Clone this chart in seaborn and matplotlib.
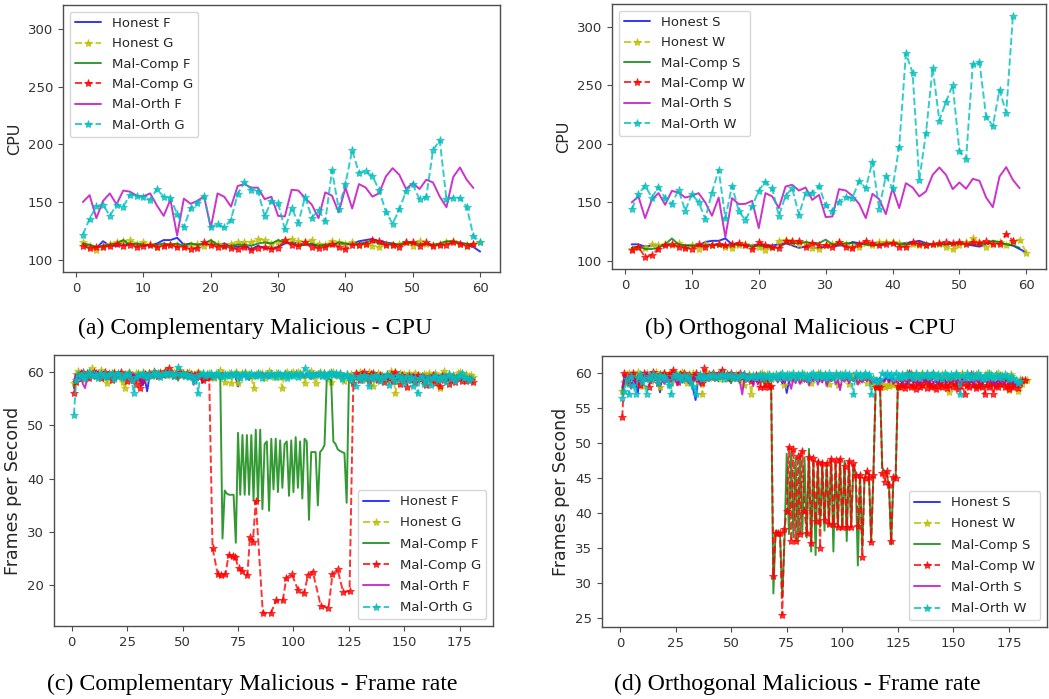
import matplotlib
matplotlib.use("Agg")
import matplotlib.pyplot as plt
import seaborn as sns

# ------------------------------------------------------------------ data
# (a) Complementary malicious - CPU  (x = sample index starting at 1)
a_honest_f = [113, 112, 110, 116, 112, 112, 113, 114, 113, 112,
              113, 114, 117, 117, 119, 113, 114, 113, 112, 114,
              113, 114, 112, 111, 112, 109, 112, 110, 110, 111,
              114, 115, 114, 113, 113, 112, 113, 114, 114, 113,
              114, 116, 117, 118, 116, 115, 114, 113, 114, 115,
              114, 113, 112, 113, 114, 115, 115, 113, 111, 107]
a_honest_g = [115, 112, 108, 112, 114, 115, 116, 117, 114, 115,
              114, 111, 113, 114, 113, 112, 113, 114, 112, 115,
              114, 112, 114, 115, 115, 115, 118, 117, 114, 115,
              117, 118, 116, 115, 117, 114, 113, 116, 115, 114,
              115, 113, 114, 112, 111, 114, 113, 114, 115, 112,
              116, 114, 113, 114, 115, 116, 114, 113, 114, 115]
a_malcomp_f = [114, 113, 111, 112, 113, 114, 117, 113, 114, 113,
               112, 113, 114, 113, 114, 112, 114, 113, 114, 117,
               113, 111, 112, 113, 113, 112, 114, 115, 114, 117,
               115, 114, 112, 113, 114, 112, 113, 112, 115, 114,
               113, 114, 115, 116, 114, 113, 114, 113, 115, 114,
               113, 114, 113, 114, 116, 116, 114, 114, 112]
a_malcomp_g = [112, 110, 111, 111, 112, 114, 112, 113, 111, 112,
               113, 111, 112, 113, 111, 111, 109, 110, 115, 113,
               111, 112, 110, 109, 111, 108, 110, 111, 109, 110,
               117, 113, 112, 115, 111, 110, 111, 114, 111, 109,
               113, 113, 114, 117, 116, 113, 113, 111, 115, 115,
               112, 115, 112, 113, 113, 115, 114, 112, 114]
a_malorth_f = [150, 156, 136, 151, 157.5, 148, 160, 159, 155.5, 155,
               157.5, 147, 138, 152, 121, 153, 148.5, 151, 155, 127.7,
               157.5, 154.6, 146, 164, 165.5, 162.5, 162.5, 152.5, 154.6, 138,
               137.5, 160.7, 160, 153.5, 147.8, 136, 158.4, 155.5, 141, 162.6,
               144.4, 165.6, 162.6, 154.7, 157.6, 172.2, 179.4, 173.6, 161.3, 166.5,
               161.3, 169.4, 167, 154.7, 145.5, 171.7, 180, 169.4, 162.2]
a_malorth_g = [121.7, 135.5, 146.2, 147.7, 138, 147.7, 145.7, 156.5, 155, 154,
               152, 161.3, 154.6, 153.8, 139.6, 128, 145, 148.9, 155, 128.3,
               130.9, 128, 134.7, 157.2, 167.2, 160.7, 159.8, 137.6, 150.8, 148.8,
               126.3, 144.8, 132, 154.5, 136.5, 143, 133.3, 177.4, 144.2, 166,
               195, 175.4, 176.9, 172.5, 160.4, 141.6, 131.2, 143.6, 159.5, 165.3,
               152.3, 154.6, 194.8, 203.8, 152.3, 153.8, 153.8, 146, 120.5, 115.6]

# (b) Orthogonal malicious - CPU
b_honest_s = [114, 114, 112, 113, 113, 113, 113, 114, 113, 113,
              113, 116, 117, 117, 119, 114, 114, 113, 113, 114,
              113, 113, 114, 115, 113, 111, 112, 111, 111, 112,
              112, 113, 113, 116, 115, 114, 114, 113, 114, 115,
              115, 115, 116, 117, 115, 114, 114, 114, 115, 115,
              114, 113, 112, 114, 116, 115, 114, 113, 110, 107]
b_honest_w = [110, 112, 111, 114, 113, 114, 113, 115, 112, 113,
              110, 114, 113, 114, 112, 111, 113, 114, 112, 112,
              109, 112, 117, 118, 116, 114, 115, 111, 110, 113,
              114, 116, 114, 112, 112, 115, 113, 116, 116, 116,
              115, 113, 114, 113, 113, 114, 114, 112, 110, 113,
              116, 119, 116, 112, 115, 116, 113, 117, 118, 107]
b_malcomp_s = [111, 112, 110, 110, 111, 114, 119, 114, 113, 113,
               113, 113, 114, 113, 113, 113, 114, 113, 112, 113,
               112, 111, 111, 115, 115, 115, 116, 115, 115, 118,
               114, 114, 115, 115, 114, 114, 113, 114, 115, 115,
               114, 114, 115, 115, 114, 114, 114, 114, 114, 115,
               114, 114, 114, 115, 117, 116, 114, 113, 111]
b_malcomp_w = [109, 112, 103, 105, 110, 113, 114, 112, 111, 110,
               114, 112, 113, 114, 113, 114, 115, 113, 110, 116,
               113, 112, 111, 117, 117, 117, 112, 115, 113, 113,
               112, 116, 112, 111, 114, 117, 115, 113, 114, 115,
               112, 112, 116, 114, 113, 114, 115, 116, 115, 116,
               114, 116, 115, 117, 114, 114, 123, 117]
b_malorth_s = [149.8, 155, 136.4, 152, 157.8, 147.8, 159.7, 158.3, 154, 155.5,
               157.8, 149.8, 138.4, 154, 120.2, 153.5, 148.4, 148.6, 151.2, 127.9,
               157.8, 155, 145, 163.4, 164.9, 160, 162.6, 152, 156.3, 137.3,
               137.8, 161.2, 160, 155.5, 148.6, 136.4, 157.2, 152.6, 139.8, 162,
               145, 166.3, 162.6, 155, 159.2, 173.4, 179.7, 173.4, 161.2, 166.9,
               161.5, 170, 168.3, 154, 145.8, 172, 180, 169.1, 162]
b_malorth_w = [144.1, 156.9, 164.3, 154, 162.9, 153.5, 148.6, 160.6, 142.7, 156.9,
               150, 135.8, 158.3, 177.7, 136.4, 164, 142.7, 134.4, 146.4, 160,
               167.7, 162, 138.4, 155.5, 162, 139.3, 157.8, 158.3, 164, 147.2,
               142.7, 150.6, 154.3, 153.5, 168.3, 162, 184.8, 144.1, 172.5, 162,
               197.6, 277.2, 260.7, 169.1, 209, 265, 219.8, 236, 250.2, 193.9,
               187, 267.9, 269.8, 223.2, 215.2, 246, 226.6, 309.4]

# (c) Complementary malicious - frame rate
c_honest_f = [57.0, 59.4, 59.8, 59.1, 59.6, 58.8, 59.9, 59.3, 59.7, 59.0,
              59.5, 59.8, 59.2, 58.7, 59.6, 59.9, 59.3, 59.0, 59.7, 59.4,
              59.1, 58.6, 59.5, 59.8, 58.9, 59.3, 58.0, 58.4, 59.6, 59.2,
              58.3, 57.5, 58.6, 56.4, 59.0, 59.7, 59.4, 59.9, 59.5, 59.8,
              60.0, 59.6, 59.3, 59.9, 59.7, 59.5, 59.8, 59.4, 59.9, 59.6,
              59.2, 59.7, 59.4, 58.9, 59.6, 58.4, 59.8, 59.5, 58.0, 59.7,
              59.4, 59.8, 59.1, 59.6, 59.9, 59.3, 59.0, 59.7, 59.5, 59.2,
              59.8, 59.4, 59.6, 58.9, 57.3, 59.5, 59.9, 59.2, 59.6, 59.0,
              59.7, 59.4, 58.8, 59.9, 59.5, 59.1, 59.6, 59.8, 59.3, 59.7,
              59.0, 59.5, 59.9, 59.2, 58.7, 59.6, 59.8, 59.4, 59.1, 59.7,
              59.5, 59.9, 59.0, 59.6, 59.3, 59.8, 59.4, 60.0, 59.2, 59.7,
              59.5, 59.1, 59.8, 60.0, 59.4, 59.7, 59.9, 59.3, 59.6, 59.0,
              59.7, 59.4, 58.9, 59.6, 59.2, 58.5, 59.0, 58.7, 59.3, 58.8,
              59.1, 58.6, 59.4, 58.9, 59.6, 58.4, 59.0, 59.5, 58.7, 59.2,
              58.9, 59.4, 58.6, 59.7, 58.8, 59.1, 58.5, 59.3, 59.9, 58.7,
              59.2, 58.6, 59.5, 58.9, 59.8, 58.4, 59.1, 59.6, 58.8, 59.3,
              58.7, 59.4, 58.9, 59.6, 58.5, 59.0, 59.4, 58.8, 59.7, 59.1,
              58.6, 59.3, 58.9, 59.5, 58.7, 59.2, 59.0, 58.8, 59.1, 58.9]
c_honest_g = [58.0, 59.6, 60.2, 59.3, 59.8, 58.7, 59.5, 60.0, 60.7, 59.4,
              59.9, 59.2, 60.3, 59.6, 58.9, 57.9, 59.8, 59.4, 60.1, 59.5,
              59.0, 59.7, 58.2, 57.0, 59.6, 60.1, 59.3, 58.6, 59.8, 59.9,
              59.2, 60.0, 59.5, 58.8, 59.9, 59.4, 60.2, 59.7, 59.3, 60.0,
              59.6, 59.9, 60.3, 59.4, 59.8, 60.1, 59.5, 59.9, 60.4, 59.6,
              59.3, 59.8, 60.0, 59.5, 59.0, 59.7, 60.1, 59.4, 59.9, 59.2,
              59.6, 59.9, 59.3, 58.8, 59.7, 59.4, 60.4, 59.8, 58.1, 59.5,
              59.9, 58.0, 59.6, 60.1, 57.9, 59.4, 59.8, 60.0, 59.2, 59.7,
              59.3, 57.0, 59.6, 59.9, 59.4, 59.8, 58.9, 59.5, 60.2, 59.6,
              59.1, 59.8, 59.4, 59.0, 57.0, 59.7, 60.1, 59.3, 59.9, 60.0,
              59.6, 60.1, 59.8, 59.2, 58.0, 59.5, 59.9, 60.2, 59.4, 57.9,
              59.7, 60.0, 59.3, 59.8, 59.5, 59.9, 58.2, 60.0, 59.6, 59.3,
              59.8, 59.1, 58.4, 59.6, 59.0, 59.7, 58.9, 59.5, 59.2, 60.0,
              59.8, 58.7, 59.4, 60.1, 59.6, 57.3, 59.3, 59.9, 58.8, 59.5,
              59.0, 59.7, 58.6, 60.2, 59.4, 56.0, 59.1, 59.8, 58.5, 59.6,
              59.2, 59.9, 58.9, 59.5, 59.8, 58.7, 59.3, 59.0, 59.7, 59.4,
              59.8, 58.8, 59.5, 59.9, 59.1, 57.0, 59.6, 60.2, 59.3, 59.7,
              59.0, 59.5, 58.8, 59.9, 60.1, 59.4, 58.9, 59.6, 59.2, 59.5,
              59.0]
c_malcomp_f = [57.5, 58.8, 59.4, 58.3, 59.6, 59.1, 59.8, 58.7, 59.5, 59.2,
               59.9, 59.0, 59.6, 58.9, 59.4, 59.8, 59.3, 58.8, 59.7, 59.1,
               59.5, 59.0, 59.8, 59.3, 58.6, 59.7, 59.2, 59.5, 58.9, 59.6,
               59.3, 58.8, 59.7, 59.0, 59.5, 59.8, 59.2, 59.6, 59.9, 59.4,
               59.7, 59.2, 59.9, 59.5, 59.8, 59.3, 59.6, 58.4, 59.9, 59.5,
               59.2, 59.7, 59.4, 59.8, 59.0, 59.6, 59.3, 59.8, 59.1, 59.5,
               59.7, 59.2, 59.6, 59.0, 59.4, 59.1, 58.6,
               28.8, 37.8, 37.2, 37.0, 37.0, 37.0, 28.0, 48.6, 37.0, 48.2,
               37.0, 48.2, 37.0, 48.2, 36.0, 49.2, 35.8, 49.2, 34.3, 46.5,
               47.0, 34.0, 47.5, 38.0, 47.5, 37.5, 47.2, 38.3, 46.5, 47.0,
               36.8, 47.2, 37.5, 47.8, 38.3, 47.0, 36.3, 47.5, 47.0, 32.3,
               45.0, 45.0, 45.0, 35.0, 45.0, 45.5, 46.3, 58.5, 58.8, 58.5,
               47.0, 46.5, 45.5, 45.2, 45.0, 44.8, 35.5,
               58.2, 59.0, 58.4, 59.2, 58.7, 59.5,
               58.8, 59.3, 58.5, 59.1, 59.6, 58.7, 59.0, 58.4, 59.3, 58.9,
               59.4, 58.6, 59.0, 59.5, 58.8, 59.2, 58.5, 59.1, 59.6, 58.7,
               59.3, 58.9, 59.5, 58.6, 59.0, 59.4, 58.8, 59.2, 58.5, 59.3,
               59.0, 58.7, 59.5, 58.9, 59.2, 58.4, 59.1, 58.8, 59.4, 59.0,
               58.6, 59.3, 58.9, 59.5, 58.7, 59.2, 58.8, 59.0, 58.6, 59.1]
c_malcomp_g_x = ([float(i) for i in range(1, 63)] +
                 [63.5, 65.8, 67.5, 69.3, 70.8, 72.6, 73.6, 75.3, 76.9, 79.2,
                  80.4, 81.7, 83.0, 86.2, 89.8, 92.2, 95.2, 96.8, 99.2, 102.1,
                  104.8, 106.6, 108.7, 112.3, 115.8, 117.6, 119.9, 122.4, 125.3] +
                 [float(i) for i in range(127, 182)])
c_malcomp_g = [56.0, 58.2, 59.5, 59.9, 60.0, 59.4, 59.8, 58.9, 59.6, 60.1,
               59.3, 59.7, 58.8, 59.5, 60.0, 59.2, 59.6, 58.6, 59.9, 59.4,
               59.7, 60.1, 59.0, 59.5, 58.4, 59.8, 59.2, 58.8, 57.8, 59.3,
               57.0, 58.5, 59.6, 59.1, 59.8, 59.4, 60.0, 59.6, 59.2, 59.8,
               59.5, 60.2, 59.7, 60.7, 59.9, 59.3, 59.8, 59.5, 60.1, 59.6,
               59.4, 59.9, 59.2, 59.7, 59.5, 59.0, 59.8, 59.3, 58.6, 59.1,
               58.8, 59.0,
               27.0, 22.2, 21.9, 22.1, 25.8, 25.5, 25.4, 23.2, 22.7, 21.9,
               29.1, 28.2, 35.8, 14.8, 14.8, 17.2, 17.2, 21.4, 22.2, 19.1,
               18.6, 22.0, 22.6, 16.2, 15.8, 22.1, 23.0, 18.8, 18.9,
               58.0, 59.8, 59.2, 58.5, 59.6, 60.0, 59.1, 58.4, 59.7, 59.9,
               59.3, 58.6, 59.5, 59.0, 58.2, 59.4, 58.8, 59.6, 58.3, 60.0,
               59.1, 57.8, 59.4, 58.7, 57.2, 59.3, 58.5, 59.0, 58.1, 59.5,
               58.7, 59.2, 58.4, 57.6, 59.1, 58.6, 59.4, 58.0, 58.9, 57.3,
               59.2, 58.5, 58.9, 57.8, 58.6, 59.3, 58.2, 58.8, 59.1, 58.4,
               58.9, 58.3, 58.7, 58.6, 58.2]
c_malorth_f = [58.5, 59.6, 58.8, 59.3, 57.8, 57.0, 58.9, 59.5, 59.9, 59.2,
               60.3, 59.6, 59.0, 59.8, 59.4, 58.7, 59.6, 59.9, 59.2, 58.6,
               59.5, 59.8, 58.9, 59.3, 59.7, 59.0, 58.5, 59.6, 59.2, 58.4,
               59.4, 58.0, 59.1, 59.7, 59.4, 59.8, 59.5, 59.9, 59.2, 59.7,
               59.6, 59.9, 59.4, 60.1, 59.8, 59.5, 59.9, 59.3, 59.7, 59.6,
               59.2, 59.5, 58.9, 59.8, 57.6, 59.3, 59.7, 58.9, 59.4, 59.0,
               59.6, 59.2, 59.8, 59.4, 59.0, 59.7, 59.3, 59.9, 59.5, 59.1,
               59.6, 59.8, 59.2, 59.5, 59.9, 58.9, 59.4, 59.7, 59.0, 58.5,
               59.6, 59.3, 59.8, 59.1, 59.5, 59.9, 59.2, 59.6, 58.8, 59.4,
               59.7, 59.1, 59.5, 59.8, 59.0, 59.6, 59.3, 59.9, 59.4, 59.1,
               59.7, 59.5, 59.2, 59.8, 59.0, 59.6, 59.4, 58.7, 59.5, 59.9,
               59.2, 59.7, 59.4, 59.0, 59.6, 59.8, 59.3, 59.5, 59.1, 59.7,
               59.4, 58.9, 59.6, 59.2, 58.6, 59.4, 58.8, 59.3, 59.0, 58.5,
               59.2, 58.9, 59.6, 58.7, 59.3, 59.0, 58.6, 59.4, 58.9, 59.5,
               58.8, 59.2, 59.0, 59.6, 58.7, 59.3, 58.9, 59.5, 59.1, 58.6,
               59.3, 59.0, 58.7, 59.6, 59.1, 58.8, 59.4, 59.0, 59.5, 58.7,
               59.2, 58.9, 59.5, 59.0, 58.6, 59.3, 58.8, 59.6, 59.1, 58.7,
               59.3, 59.0, 58.5, 59.4, 58.9, 59.2, 58.7, 59.1, 58.8, 59.0]
c_malorth_g = [52.0, 58.5, 59.6, 59.0, 59.8, 58.9, 59.4, 60.0, 59.2, 59.7,
               59.5, 58.8, 59.9, 59.3, 59.7, 59.1, 59.6, 59.8, 58.7, 59.4,
               59.9, 59.2, 58.9, 59.6, 59.3, 59.8, 58.6, 56.0, 59.1, 59.7,
               59.4, 59.9, 59.2, 58.8, 59.7, 59.3, 60.0, 59.5, 59.8, 59.1,
               59.6, 59.9, 59.4, 60.0, 59.7, 59.3, 59.8, 61.0, 59.5, 59.9,
               59.3, 59.7, 59.0, 59.5, 58.4, 59.2, 56.0, 59.6, 59.8, 59.3,
               59.7, 59.4, 59.9, 59.1, 59.6, 59.8, 59.3, 59.0, 59.7, 59.5,
               59.2, 59.8, 59.5, 59.9, 59.3, 58.9, 59.6, 59.8, 59.1, 59.4,
               59.9, 59.5, 59.2, 59.8, 59.6, 58.9, 59.4, 59.7, 59.3, 59.9,
               59.5, 59.1, 59.8, 59.6, 59.2, 59.9, 58.8, 59.4, 59.7, 59.3,
               59.8, 59.0, 59.6, 59.4, 60.7, 59.5, 59.9, 59.2, 59.7, 59.4,
               59.6, 59.9, 59.3, 59.8, 59.0, 59.6, 60.0, 59.4, 59.8, 59.5,
               59.9, 58.7, 59.3, 59.6, 59.0, 58.5, 59.2, 57.4, 58.9, 59.3,
               58.6, 59.4, 58.9, 57.4, 59.2, 58.7, 59.5, 59.0, 58.4, 59.3,
               58.8, 59.6, 57.6, 59.2, 58.9, 58.3, 59.4, 58.7, 59.1, 57.9,
               59.3, 58.6, 59.0, 57.4, 58.8, 56.0, 58.9, 59.3, 57.8, 58.6,
               59.0, 57.5, 58.8, 59.4, 58.5, 59.1, 58.7, 59.3, 58.2, 59.6,
               58.9, 59.2, 58.4, 59.0, 59.5, 59.8, 58.8, 59.1, 58.6, 58.9]

# (d) Orthogonal malicious - frame rate
d_honest_s = [57.5, 59.8, 59.2, 58.6, 59.5, 59.9, 58.9, 57.2, 59.4, 59.7,
              59.1, 59.8, 59.5, 58.8, 59.6, 59.9, 59.2, 57.3, 59.5, 59.8,
              59.3, 59.6, 59.9, 59.0, 59.5, 59.8, 59.2, 58.7, 59.6, 59.3,
              59.8, 58.9, 57.6, 56.2, 58.8, 59.5, 59.9, 59.2, 59.7, 59.4,
              59.8, 59.3, 59.6, 59.9, 59.2, 59.7, 59.5, 59.8, 59.1, 59.6,
              59.9, 59.3, 59.7, 59.0, 59.5, 59.8, 59.2, 59.6, 59.4, 59.9,
              59.5, 59.1, 59.8, 59.4, 59.7, 59.2, 59.6, 59.9, 59.3, 59.7,
              59.4, 59.8, 58.6, 59.2, 57.2, 58.9, 59.5, 59.8, 59.1, 59.6,
              59.3, 59.9, 59.5, 58.8, 59.7, 59.2, 59.6, 59.9, 59.4, 59.0,
              59.7, 59.3, 59.8, 59.5, 59.1, 59.9, 59.4, 59.7, 60.0, 59.3,
              59.6, 59.2, 59.9, 59.5, 59.1, 59.8, 59.4, 59.7, 59.0, 59.6,
              59.3, 59.8, 58.9, 58.5, 59.2, 58.8, 59.4, 58.6, 59.1, 59.5,
              58.9, 59.6, 59.2, 58.7, 59.4, 59.0, 58.6, 59.3, 58.9, 59.5,
              59.0, 58.7, 59.4, 58.8, 59.2, 59.6, 58.9, 59.3, 58.6, 59.1,
              59.5, 58.8, 59.2, 58.5, 59.4, 59.0, 58.7, 59.3, 58.9, 59.6,
              59.1, 58.6, 59.3, 58.9, 59.5, 59.0, 58.7, 59.2, 58.8, 59.4,
              59.0, 58.6, 59.3, 58.9, 59.5, 59.1, 58.7, 59.2, 58.5, 59.0,
              58.8, 59.3, 58.9, 59.4, 58.7, 59.1, 58.6, 58.9, 58.0]
d_honest_w = [57.5, 58.8, 59.9, 60.1, 59.4, 58.6, 59.8, 60.2, 59.5, 58.2,
              59.7, 60.0, 59.3, 58.9, 59.9, 60.2, 59.6, 58.0, 59.8, 60.1,
              59.4, 59.9, 58.7, 59.6, 60.0, 59.3, 59.8, 60.2, 59.5, 58.6,
              59.9, 59.4, 60.1, 59.7, 58.8, 59.6, 57.0, 59.5, 60.0, 59.3,
              59.8, 60.1, 59.5, 59.9, 59.2, 59.7, 60.0, 59.4, 59.8, 59.6,
              59.3, 59.9, 59.6, 59.1, 59.7, 58.3, 59.5, 59.9, 57.0, 59.4,
              59.8, 59.2, 59.6, 60.0, 59.4, 59.9, 59.1, 59.6, 59.8, 59.3,
              59.7, 59.9, 59.4, 58.4, 59.6, 59.9, 59.2, 59.7, 59.5, 59.8,
              59.1, 59.6, 59.9, 59.4, 59.7, 58.6, 59.5, 59.8, 60.0, 59.3,
              59.6, 59.9, 59.2, 58.5, 59.7, 59.4, 59.8, 58.4, 59.5, 59.9,
              59.3, 59.7, 58.5, 59.6, 59.8, 59.2, 58.9, 59.7, 59.4, 59.9,
              58.7, 59.5, 58.9, 58.2, 58.4, 58.6, 58.3, 58.5, 58.0, 58.4,
              58.2, 58.6, 58.3, 58.9, 58.0, 59.4, 59.8, 59.3, 59.9, 59.5,
              60.0, 59.4, 59.8, 59.2, 59.7, 60.1, 59.5, 59.9, 59.3, 59.8,
              60.0, 59.4, 59.7, 59.1, 59.9, 59.5, 59.8, 57.3, 59.6, 59.2,
              59.9, 59.4, 59.7, 60.0, 59.3, 59.8, 59.5, 59.1, 59.7, 59.9,
              59.4, 59.8, 59.2, 59.6, 60.0, 59.5, 59.9, 59.3, 59.7, 60.0,
              59.4, 59.8, 59.2, 59.6, 57.6, 59.9, 59.4, 58.3, 57.5, 59.2,
              58.5, 59.0, 59.0]
d_malcomp_s = [57.0, 59.4, 58.9, 59.6, 59.2, 59.8, 58.7, 59.5, 59.9, 59.1,
               59.6, 59.3, 59.8, 59.0, 59.5, 59.9, 59.2, 59.7, 59.4, 59.8,
               59.1, 59.6, 59.3, 59.9, 59.5, 59.2, 59.8, 59.0, 59.6, 59.4,
               59.7, 59.2, 59.8, 59.5, 59.9, 59.3, 59.6, 59.0, 59.7, 59.4,
               59.9, 59.2, 59.6, 59.8, 59.3, 59.7, 59.5, 59.9, 59.1, 58.6,
               59.6, 59.3, 59.8, 59.0, 59.5, 59.7, 59.2, 59.6, 58.9, 59.4,
               59.7, 59.2, 59.5, 59.0, 58.5, 59.2, 58.6, 58.0,
               28.5, 37.5, 37.3, 37.0, 28.0, 36.0, 48.5, 37.0, 48.8, 36.5,
               48.0, 36.0, 48.5, 37.0, 48.0, 36.5, 49.2, 34.5, 47.5, 34.0,
               47.5, 38.0, 47.3, 37.5, 47.2, 38.3, 47.6, 34.5, 47.0, 38.0,
               47.6, 37.8, 47.5, 36.0, 47.3, 38.0, 47.0, 45.5, 32.5, 45.5,
               35.0, 45.0, 46.0, 45.5, 36.0, 45.5, 58.0, 58.2, 58.0, 46.5,
               46.0, 45.5, 44.0, 35.5, 45.0, 45.0,
               58.3, 58.0, 58.6, 57.9, 58.4, 58.8, 58.1, 58.5, 57.8, 58.3,
               58.7, 58.0, 58.4, 59.0, 58.2, 58.6, 57.9, 58.3, 58.8, 58.1,
               58.5, 59.2, 58.0, 58.4, 58.9, 58.2, 58.6, 57.8, 58.3, 58.7,
               59.5, 58.1, 58.5, 59.0, 58.2, 58.6, 57.9, 58.4, 58.8, 58.0,
               58.5, 59.3, 58.1, 58.6, 57.9, 58.4, 58.9, 58.2, 58.6, 59.5,
               58.3, 58.7, 58.0, 58.4, 58.1, 58.5]
d_malcomp_w = [53.7, 60.0, 59.2, 58.6, 59.8, 60.1, 58.9, 59.5, 58.3, 59.7,
               60.0, 59.4, 58.1, 59.8, 60.2, 59.3, 58.7, 59.9, 59.5, 60.1,
               59.2, 59.8, 60.0, 60.5, 59.6, 58.8, 59.9, 59.4, 60.0, 59.3,
               59.8, 58.9, 59.5, 60.0, 59.2, 59.7, 58.6, 60.8, 59.4, 59.9,
               59.5, 60.1, 59.3, 59.8, 60.0, 60.5, 59.6, 59.9, 59.4, 60.1,
               59.7, 59.3, 59.8, 60.0, 59.5, 59.9, 59.2, 59.6, 58.9, 59.4,
               59.8, 59.2, 58.0, 59.6, 58.0, 58.5, 58.0, 58.2,
               31.0, 37.1, 37.1, 37.1, 25.4, 37.7, 40.3, 49.5, 36.0, 49.2,
               36.0, 48.2, 37.0, 48.9, 40.3, 37.1, 48.1, 35.7, 47.9, 38.9,
               47.3, 35.0, 47.2, 39.0, 47.2, 38.5, 47.8, 38.5, 47.6, 38.0,
               47.8, 38.0, 46.8, 38.0, 47.5, 38.0, 47.2, 45.5, 38.2, 45.5,
               33.7, 45.0, 46.0, 45.2, 35.8, 45.5, 58.0, 58.2, 58.0, 45.8,
               44.5, 46.0, 44.0, 36.0, 45.2, 45.0,
               58.2, 58.0, 58.5, 57.9, 58.3, 60.0, 58.1, 58.4, 57.8, 58.6,
               58.0, 58.3, 59.2, 57.9, 58.5, 58.1, 58.4, 57.8, 58.2, 58.7,
               58.0, 58.4, 57.9, 58.3, 59.0, 58.1, 58.5, 57.8, 58.2, 58.6,
               57.1, 58.3, 58.0, 59.9, 58.4, 57.9, 58.2, 58.6, 58.0, 57.1,
               58.4, 58.1, 58.6, 57.1, 58.3, 58.0, 58.5, 59.2, 58.1, 58.4,
               57.8, 58.3, 58.0, 58.5, 57.9, 58.6, 59.0, 59.0]
d_malorth_s = [58.0, 59.5, 58.7, 59.9, 57.8, 59.3, 58.5, 59.7, 59.0, 58.4,
               59.6, 60.2, 59.1, 58.6, 59.8, 59.3, 58.9, 59.6, 59.2, 58.5,
               59.7, 59.4, 58.8, 59.6, 59.0, 58.3, 59.5, 58.9, 59.7, 59.2,
               58.6, 59.4, 58.9, 59.7, 59.3, 58.4, 59.5, 59.9, 59.0, 59.6,
               59.3, 59.8, 59.5, 59.9, 59.2, 59.6, 59.4, 59.8, 59.1, 59.5,
               59.8, 59.2, 59.6, 58.7, 57.0, 59.4, 59.8, 59.1, 59.5, 58.2,
               59.7, 58.4, 59.3, 59.8, 59.0, 59.5, 59.2, 58.9, 59.6, 59.3,
               58.7, 59.5, 59.1, 58.6, 59.4, 58.9, 57.8, 59.3, 58.6, 59.5,
               58.5, 59.2, 58.8, 59.6, 58.3, 59.4, 58.9, 59.7, 58.4, 59.2,
               58.7, 59.5, 58.2, 59.3, 58.9, 59.6, 58.5, 59.1, 57.6, 59.4,
               58.8, 59.5, 58.6, 59.2, 58.9, 59.6, 58.4, 59.1, 58.7, 59.3,
               58.9, 59.4, 58.5, 59.0, 58.7, 59.3, 58.6, 59.1, 58.8, 59.4,
               58.7, 59.2, 58.5, 59.0, 58.6, 59.3, 58.8, 59.1, 58.4, 59.2,
               58.9, 59.4, 58.6, 59.0, 58.5, 59.3, 58.8, 59.1, 58.7, 59.4,
               58.6, 59.0, 58.5, 59.2, 58.8, 59.3, 58.6, 59.0, 58.9, 59.4,
               58.7, 59.1, 58.5, 59.3, 58.8, 59.0, 58.6, 59.2, 58.4, 59.1,
               58.8, 59.3, 58.5, 59.0, 58.7, 59.2, 58.6, 58.9, 58.4, 59.1,
               58.7, 59.0, 58.5, 59.2, 58.8, 58.6, 58.9, 58.3, 58.7, 58.5]
d_malorth_w = [56.5, 57.5, 59.2, 57.0, 59.6, 58.3, 57.0, 59.5, 59.9, 58.8,
               59.4, 57.0, 59.7, 59.2, 59.9, 59.5, 58.6, 59.8, 59.3, 59.7,
               59.1, 58.4, 57.0, 59.6, 59.9, 59.3, 59.7, 59.0, 59.8, 59.4,
               59.6, 58.8, 58.2, 57.0, 59.5, 59.9, 59.2, 59.7, 59.4, 59.8,
               59.5, 59.9, 59.3, 59.7, 59.6, 59.9, 59.2, 59.8, 59.5, 59.9,
               59.4, 59.7, 59.3, 59.8, 59.6, 59.9, 59.2, 59.7, 59.5, 59.8,
               59.3, 59.6, 59.9, 59.4, 59.8, 59.5, 59.9, 59.2, 59.7, 59.9,
               59.4, 59.8, 60.0, 59.5, 59.9, 59.3, 59.8, 60.0, 59.4, 59.9,
               59.6, 60.0, 59.5, 59.8, 59.2, 59.9, 60.0, 59.4, 59.8, 60.0,
               59.5, 59.9, 59.3, 60.0, 59.7, 59.4, 60.0, 59.6, 59.9, 59.5,
               60.0, 59.6, 59.9, 59.4, 57.0, 60.0, 59.7, 59.9, 59.5, 60.0,
               59.6, 59.9, 57.0, 59.3, 59.0, 58.8, 59.2, 60.0, 59.8, 60.0,
               59.6, 59.9, 59.4, 60.0, 59.7, 59.3, 59.9, 59.5, 60.0, 59.6,
               59.9, 59.4, 60.0, 59.7, 59.3, 59.9, 59.6, 60.0, 59.5, 59.8,
               60.0, 59.4, 59.9, 59.6, 59.2, 60.0, 59.7, 59.3, 59.9, 59.5,
               60.0, 59.6, 57.0, 59.8, 59.4, 60.0, 59.7, 59.3, 59.9, 59.5,
               60.0, 59.6, 59.2, 59.8, 59.4, 60.0, 59.7, 59.3, 59.9, 59.5,
               59.8, 59.4, 59.9, 59.6, 59.2, 59.7, 59.4, 59.0, 58.6, 58.9]

labels_a = ["Honest F", "Honest G", "Mal-Comp F", "Mal-Comp G", "Mal-Orth F", "Mal-Orth G"]
labels_b = ["Honest S", "Honest W", "Mal-Comp S", "Mal-Comp W", "Mal-Orth S", "Mal-Orth W"]
captions = ["(a) Complementary Malicious - CPU", "(b) Orthogonal Malicious - CPU",
            "(c) Complementary Malicious - Frame rate", "(d) Orthogonal Malicious - Frame rate"]

# ------------------------------------------------------------------ style
sns.set_style("ticks")
plt.rcParams.update({
    "axes.edgecolor": "0.3",
    "axes.linewidth": 1.0,
    "xtick.color": "0.3",
    "ytick.color": "0.3",
    "xtick.labelcolor": "0.2",
    "ytick.labelcolor": "0.2",
    "xtick.major.size": 3.5,
    "ytick.major.size": 3.5,
    "legend.edgecolor": "0.8",
    "legend.framealpha": 0.8,
})
plt.rcParams["font.family"] = ["DejaVu Sans"]

W, H = 1049, 699
fig = plt.figure(figsize=(W / 100, H / 100), dpi=100)


def rect(l, t, r, b):
    return [l / W, 1 - b / H, (r - l) / W, (b - t) / H]


STYLES = [("b", "-", None), ("y", "--", "*"), ("g", "-", None),
          ("r", "--", "*"), ("m", "-", None), ("c", "--", "*")]


def idx(series):
    return list(range(1, len(series) + 1))


def draw(ax, xs, ys, labels):
    for x, y, lab, (c, ls, mk) in zip(xs, ys, labels, STYLES):
        kw = dict(color=c, linestyle=ls, label=lab, ax=ax, estimator=None,
                  sort=False, alpha=0.8, linewidth=1.4)
        if mk:
            kw.update(marker=mk, markersize=6, markeredgecolor=c, markeredgewidth=0.6)
        sns.lineplot(x=x, y=y, **kw)


ax_a = fig.add_axes(rect(63, 5, 500, 272))
ax_b = fig.add_axes(rect(612, 4, 1046, 269))
ax_c = fig.add_axes(rect(54, 355, 493, 626))
ax_d = fig.add_axes(rect(602, 356, 1047, 627))

sa = [a_honest_f, a_honest_g, a_malcomp_f, a_malcomp_g, a_malorth_f, a_malorth_g]
draw(ax_a, [idx(s) for s in sa], sa, labels_a)
sb = [b_honest_s, b_honest_w, b_malcomp_s, b_malcomp_w, b_malorth_s, b_malorth_w]
draw(ax_b, [idx(s) for s in sb], sb, labels_b)
sc = [c_honest_f, c_honest_g, c_malcomp_f, c_malcomp_g, c_malorth_f, c_malorth_g]
xc = [idx(c_honest_f), idx(c_honest_g), idx(c_malcomp_f), c_malcomp_g_x,
      idx(c_malorth_f), idx(c_malorth_g)]
draw(ax_c, xc, sc, labels_a)
sd = [d_honest_s, d_honest_w, d_malcomp_s, d_malcomp_w, d_malorth_s, d_malorth_w]
draw(ax_d, [idx(s) for s in sd], sd, labels_b)

for ax in (ax_a, ax_b):
    ax.set_xlim(-1.95, 62.95)
    ax.set_xticks(range(0, 61, 10))
    ax.set_yticks(range(100, 301, 50))
    ax.set_ylabel("CPU", fontsize=11.5)
    ax.legend(loc="upper left", fontsize=9.5, labelspacing=0.56)
ax_a.set_ylim(89.3, 321)
ax_b.set_ylim(92.9, 319.5)

ax_c.set_xlim(-8, 190)
ax_c.set_ylim(12.4, 63.2)
ax_c.set_yticks(range(20, 61, 10))
ax_d.set_xlim(-8.1, 192.1)
ax_d.set_ylim(23.7, 62.5)
ax_d.set_yticks(range(25, 61, 5))
for ax in (ax_c, ax_d):
    ax.set_xticks(range(0, 176, 25))
    ax.set_ylabel("Frames per Second", fontsize=12.5)
    ax.legend(loc="lower right", fontsize=9.5, labelspacing=0.62)

for ax in (ax_a, ax_b, ax_c, ax_d):
    ax.set_xlabel("")
    ax.tick_params(labelsize=9.5)

cap_kw = dict(ha="center", va="center", family=["Liberation Serif", "DejaVu Serif"],
              fontsize=17.2, color="black")
fig.text(255 / W, 1 - 328 / H, captions[0], **cap_kw)
fig.text(800 / W, 1 - 328 / H, captions[1], **cap_kw)
fig.text(252 / W, 1 - 684 / H, captions[2], **cap_kw)
fig.text(797 / W, 1 - 684 / H, captions[3], **cap_kw)

fig.savefig("out.png", dpi=100)
